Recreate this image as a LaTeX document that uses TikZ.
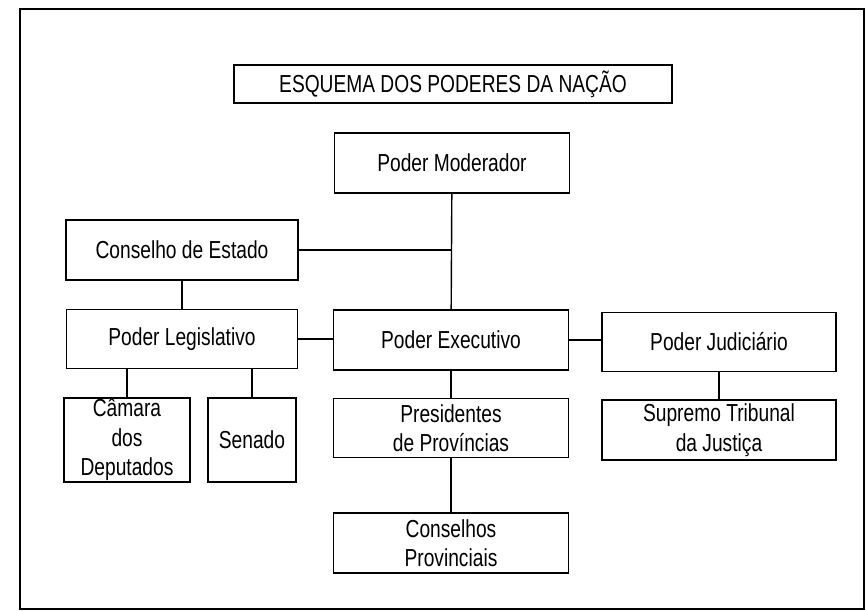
\documentclass[tikz,border=0pt]{standalone}
\usepackage{fontspec}
\setmainfont[FakeStretch=0.78]{Liberation Sans}
\begin{document}
\begin{tikzpicture}[x=0.02cm,y=-0.02cm,line width=0.8pt,
    box/.style={draw,inner sep=0pt,align=center,minimum width=4.7cm,minimum height=1.2cm,font=\fontsize{14}{16.8}\selectfont}]
    
    \useasboundingbox (0,0) rectangle (866,611);
    \draw (20,9) rectangle (864,609);
    
    \node[box,minimum width=8.76cm,minimum height=0.76cm] (T) at (453,84) {ESQUEMA DOS PODERES DA NAÇÃO};
    
    \node[box] (M) at (452,163) {Poder Moderador};
    \node[box,minimum width=4.64cm] (CE) at (182,250) {Conselho de Estado};
    
    \node[box,minimum width=4.62cm,minimum height=1.18cm] (L) at (182,339) {Poder Legislativo};
    \node[box,minimum width=2.52cm,minimum height=1.68cm] (L1) at (127,440) {Câmara\\dos\\Deputados};
    \node[box,minimum width=1.76cm,minimum height=1.68cm] (L2) at (252,440) {Senado};
    
    \node[box] (E) at (451,340) {Poder Executivo};
    \node[box,minimum height=1.18cm] (E1) at (451,428) {Presidentes\\de Províncias};
    \node[box] (E2) at (451,543) {Conselhos\\Provinciais};
    
    \node[box,minimum width=4.68cm,minimum height=1.18cm] (J) at (719,342) {Poder Judiciário};
    \node[box,minimum width=4.68cm] (J1) at (719,430) {Supremo Tribunal\\da Justiça};
    
    \coordinate (K) at (E.north |- CE.east);
    
    \draw[-] (M) -- (E);
    \draw[-] (CE.east) -- (K);
    \draw[-] (CE) -- (L);
    \draw[-] (L.east) -- (L.east -| E.west);
    \draw[-] (E.east) -- (E.east -| J.west);
    
    \draw[-] (L.south -| L1.north) -- (L1);
    \draw[-] (L.south -| L2.north) -- (L2);
    \draw[-] (E) -- (E1);
    \draw[-] (E1) -- (E2);
    \draw[-] (J) -- (J1);
    
\end{tikzpicture}
\end{document}
